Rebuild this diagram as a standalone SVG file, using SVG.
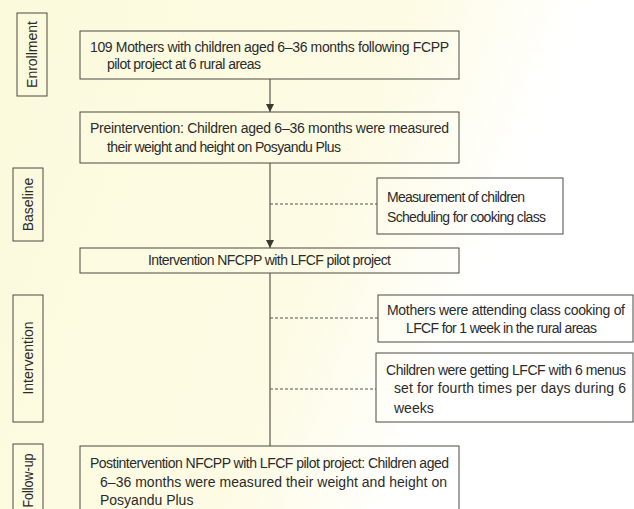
<svg xmlns="http://www.w3.org/2000/svg" width="634" height="509" viewBox="0 0 634 509">
<defs>
<linearGradient id="bg" x1="0" y1="0" x2="1" y2="0.3">
<stop offset="0" stop-color="#fcfadc"/>
<stop offset="0.6" stop-color="#fdfbe4"/>
<stop offset="0.85" stop-color="#ffffff"/>
</linearGradient>
<marker id="ah" viewBox="0 0 8 8" refX="8" refY="4" markerWidth="8" markerHeight="8" markerUnits="userSpaceOnUse" orient="auto">
<path d="M0,0 L8,4 L0,8 Z" fill="#3a3a2e"/>
</marker>
<style>
.bx{fill:none;stroke:#4a4a44;stroke-width:1}
.t{font-family:"Liberation Sans Narrow","Liberation Sans",Arial,sans-serif;font-size:14px;fill:#2b2b2b}
.ln{stroke:#3a3a2e;stroke-width:1;fill:none}
.ds{stroke:#555;stroke-width:1;stroke-dasharray:3,2;fill:none}
</style>
</defs>
<rect x="0" y="0" width="634" height="509" fill="url(#bg)"/>
<g id="connectors">
<line class="ln" x1="270" y1="79" x2="270" y2="112" marker-end="url(#ah)"/>
<line class="ln" x1="270" y1="163" x2="270" y2="248" marker-end="url(#ah)"/>
<line class="ln" x1="270" y1="273" x2="270" y2="446"/>
<line class="ds" x1="270" y1="204" x2="377" y2="204"/>
<line class="ds" x1="270" y1="318" x2="378" y2="318"/>
<line class="ds" x1="270" y1="389" x2="376" y2="389"/>
</g>
<g id="lbl-enrollment">
<rect class="bx" x="17" y="13" width="30" height="83"/>
<text class="t" transform="translate(37,54.5) rotate(-90)" text-anchor="middle">Enrollment</text>
</g>
<g id="lbl-baseline">
<rect class="bx" x="13" y="168" width="30" height="73"/>
<text class="t" transform="translate(33,204.5) rotate(-90)" text-anchor="middle">Baseline</text>
</g>
<g id="lbl-intervention">
<rect class="bx" x="13" y="295" width="30" height="127"/>
<text class="t" transform="translate(33,358) rotate(-90)" text-anchor="middle">Intervention</text>
</g>
<g id="lbl-followup">
<rect class="bx" x="13" y="444" width="30" height="70"/>
<text class="t" transform="translate(33,480.5) rotate(-90)" text-anchor="middle" textLength="54" lengthAdjust="spacingAndGlyphs">Follow-up</text>
</g>
<g id="enrollment">
<rect class="bx" x="80" y="31" width="379" height="48"/>
<text class="t" x="90" y="52" textLength="359" lengthAdjust="spacing">109 Mothers with children aged 6–36 months following FCPP</text>
<text class="t" x="107" y="69" textLength="154" lengthAdjust="spacing">pilot project at 6 rural areas</text>
</g>
<g id="preintervention">
<rect class="bx" x="80" y="112" width="379" height="51"/>
<text class="t" x="90" y="133" textLength="359" lengthAdjust="spacing">Preintervention: Children aged 6–36 months were measured</text>
<text class="t" x="107" y="152" textLength="234" lengthAdjust="spacing">their weight and height on Posyandu Plus</text>
</g>
<g id="baseline-tasks">
<rect class="bx" x="377" y="178" width="186" height="56"/>
<text class="t" x="387" y="202" textLength="138" lengthAdjust="spacing">Measurement of children</text>
<text class="t" x="387" y="222" textLength="159" lengthAdjust="spacing">Scheduling for cooking class</text>
</g>
<g id="intervention">
<rect class="bx" x="80" y="248" width="379" height="25"/>
<text class="t" x="148" y="265" textLength="243" lengthAdjust="spacing">Intervention NFCPP with LFCF pilot project</text>
</g>
<g id="cooking-class">
<rect class="bx" x="378" y="295" width="255" height="47"/>
<text class="t" x="387" y="315" textLength="238" lengthAdjust="spacing">Mothers were attending class cooking of</text>
<text class="t" x="406" y="333" textLength="191" lengthAdjust="spacing">LFCF for 1 week in the rural areas</text>
</g>
<g id="menus">
<rect class="bx" x="376" y="353" width="257" height="69"/>
<text class="t" x="386" y="375" textLength="240" lengthAdjust="spacing">Children were getting LFCF with 6 menus</text>
<text class="t" x="394" y="393" textLength="232" lengthAdjust="spacing">set for fourth times per days during 6</text>
<text class="t" x="394" y="413">weeks</text>
</g>
<g id="postintervention">
<rect class="bx" x="80" y="446" width="379" height="70"/>
<text class="t" x="90" y="468" textLength="359" lengthAdjust="spacing">Postintervention NFCPP with LFCF pilot project: Children aged</text>
<text class="t" x="100" y="487" textLength="347" lengthAdjust="spacing">6–36 months were measured their weight and height on</text>
<text class="t" x="100" y="505">Posyandu Plus</text>
</g>
</svg>
